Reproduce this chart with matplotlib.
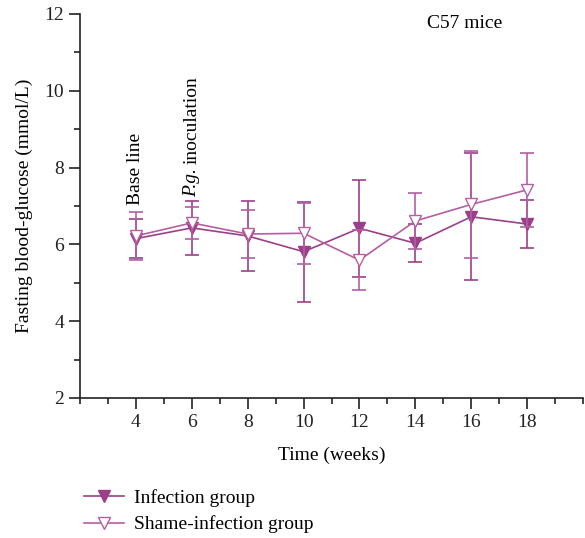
import matplotlib
matplotlib.use("Agg")
import matplotlib.pyplot as plt
from matplotlib.ticker import MultipleLocator
from matplotlib.lines import Line2D

plt.rcParams['font.family'] = ['Liberation Serif', 'DejaVu Serif']

weeks = [4, 6, 8, 10, 12, 14, 16, 18]
infection = [6.15, 6.43, 6.22, 5.81, 6.42, 6.03, 6.72, 6.53]
infection_err = [0.50, 0.70, 0.90, 1.30, 1.27, 0.50, 1.66, 0.63]
shame = [6.22, 6.56, 6.27, 6.29, 5.59, 6.61, 7.04, 7.42]
shame_err = [0.63, 0.42, 0.63, 0.80, 0.78, 0.74, 1.40, 0.97]

col = '#9c3f8a'
col2 = '#b45fa2'
fs = 14

fig = plt.figure(figsize=(5.85, 5.38), dpi=100)
ax = fig.add_axes([80 / 585, 1 - 398 / 538, 503 / 585, 384 / 538])

ax.errorbar(weeks, infection, yerr=infection_err, color=col, marker='v',
            markersize=8, markerfacecolor=col, markeredgecolor=col,
            lw=1.2, elinewidth=1.2, capsize=5, capthick=1.2, zorder=3)
ax.errorbar(weeks, shame, yerr=shame_err, color=col2, marker='v',
            markersize=8, markerfacecolor='white', markeredgecolor=col2,
            lw=1.2, elinewidth=1.2, capsize=5, capthick=1.2, zorder=4)

ax.set_xlim(2, 20)
ax.set_ylim(2, 12)
ax.set_xticks(weeks)
ax.set_yticks([2, 4, 6, 8, 10, 12])
ax.xaxis.set_minor_locator(MultipleLocator(1))
ax.yaxis.set_minor_locator(MultipleLocator(1))
ax.tick_params(which='major', direction='out', length=8, width=1.2, labelsize=fs,
               color='#222222', labelcolor='#222222')
ax.tick_params(which='minor', direction='out', length=4, width=1.2, color='#222222')
for s in ['top', 'right']:
    ax.spines[s].set_visible(False)
for s in ['left', 'bottom']:
    ax.spines[s].set_linewidth(1.2)
    ax.spines[s].set_color('#222222')

ax.set_xlabel('Time (weeks)', fontsize=fs, labelpad=11)
ax.set_ylabel('Fasting blood-glucose (mmol/L)', fontsize=fs, labelpad=8)

ax.text(4, 7.03, 'Base line', rotation=90, ha='center', va='bottom', fontsize=fs)
ax.text(6, 7.23, 'P.g.', rotation=90, ha='center', va='bottom', fontsize=fs, style='italic')
ax.text(6, 8.1, 'inoculation', rotation=90, ha='center', va='bottom', fontsize=fs)
ax.text(15.75, 11.75, 'C57 mice', ha='center', va='center', fontsize=fs)

h1 = Line2D([], [], color=col, marker='v', markersize=8, markerfacecolor=col, lw=1.2)
h2 = Line2D([], [], color=col2, marker='v', markersize=8, markerfacecolor='white', lw=1.2)
fig.legend([h1, h2], ['Infection group', 'Shame-infection group'],
           loc='lower left', bbox_to_anchor=(66 / 585, -0.024), frameon=False,
           fontsize=fs, handlelength=2.1, handletextpad=0.5, labelspacing=0.45)

fig.savefig('out.png', dpi=100)
